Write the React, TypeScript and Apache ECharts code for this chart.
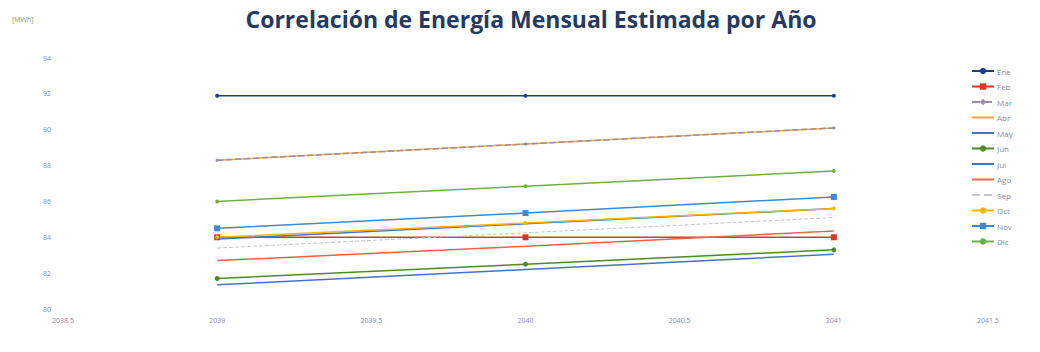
import React, { useEffect, useRef } from "react";
import * as echarts from "echarts";

const years = [2039, 2040, 2041];
const months = ["Ene", "Feb", "Mar", "Abr", "May", "Jun", "Jul", "Ago", "Sep", "Oct", "Nov", "Dic"];
const ene = [91.9, 91.9, 91.9];
const feb = [84.0, 84.0, 84.0];
const mar = [88.3, 89.2, 90.1];
const abr = [88.3, 89.2, 90.1];
const may = [83.9, 84.75, 85.6];
const jun = [81.7, 82.5, 83.3];
const jul = [81.35, 82.2, 83.05];
const ago = [82.7, 83.5, 84.35];
const sep = [83.4, 84.25, 85.1];
const oct = [84.0, 84.8, 85.6];
const nov = [84.5, 85.35, 86.25];
const dic = [86.0, 86.85, 87.7];
const values = [ene, feb, mar, abr, may, jun, jul, ago, sep, oct, nov, dic];

const colors = ["#1f3d8a", "#d93a1e", "#9a8cb0", "#f0a830", "#4a72c4", "#4f8a2a", "#4472c4", "#f0644a", "#c4c4cc", "#f5b800", "#3b8ad9", "#6fb043"];
const symbols = ["circle", "rect", "diamond", "none", "none", "circle", "none", "none", "none", "circle", "rect", "circle"];
const symbolSizes = [4, 6, 4, 0, 0, 5, 0, 0, 0, 4, 6, 4];

export default function App() {
  const ref = useRef<HTMLDivElement>(null);
  useEffect(() => {
    if (!ref.current) return;
    const chart = echarts.init(ref.current, null, { renderer: "svg" });
    const axisLabelColor = "#8a8aac";
    chart.setOption({
      animation: false,
      backgroundColor: "#ffffff",
      title: {
        text: "Correlación de Energía Mensual Estimada por Año",
        left: 526,
        textAlign: "center",
        top: 2,
        textStyle: { fontFamily: "Open Sans", fontWeight: "bold", fontSize: 23, color: "#243a60" },
      },
      graphic: [
        { type: "text", left: 12, top: 16, style: { text: "[MWh]", fontSize: 7, fill: "#8a9a6a", fontFamily: "Open Sans" } },
      ],
      grid: { left: 63, right: 52, top: 58, bottom: 43, containLabel: false },
      legend: {
        orient: "vertical",
        left: 966,
        top: 62,
        itemWidth: 22,
        itemHeight: 8,
        itemGap: 7.5,
        textStyle: { fontSize: 8, color: "#8a8aa0", fontFamily: "Open Sans", padding: [0, 0, 0, -2] },
        data: months.map((m, i) => (symbols[i] === "none" ? { name: m, itemStyle: { opacity: 0 } } : { name: m })),
      },
      xAxis: {
        type: "value",
        min: 2038.5,
        max: 2041.5,
        interval: 0.5,
        axisLine: { show: false },
        axisTick: { show: false },
        splitLine: { show: false },
        axisLabel: { color: axisLabelColor, fontSize: 7, fontFamily: "Open Sans", margin: 8, formatter: (v: number) => String(v) },
      },
      yAxis: {
        type: "value",
        min: 80,
        max: 94,
        interval: 2,
        axisLine: { show: false },
        axisTick: { show: false },
        splitLine: { show: false },
        axisLabel: { color: axisLabelColor, fontSize: 7, fontFamily: "Open Sans", margin: 12 },
      },
      series: months.map((m, i) => ({
        name: m,
        type: "line",
        data: years.map((y, j) => [y, values[i][j]]),
        symbol: symbols[i],
        symbolSize: symbolSizes[i],
        showSymbol: symbols[i] !== "none",
        z: i === 2 ? 4 : 2,
        lineStyle: { color: colors[i], width: i === 8 ? 1 : 1.5, type: i === 8 || i === 2 ? "dashed" : "solid" },
        itemStyle: { color: colors[i] },
      })),
    });
    return () => chart.dispose();
  }, []);
  return <div ref={ref} style={{ position: "fixed", left: 0, top: 0, width: 1040, height: 352 }} />;
}
